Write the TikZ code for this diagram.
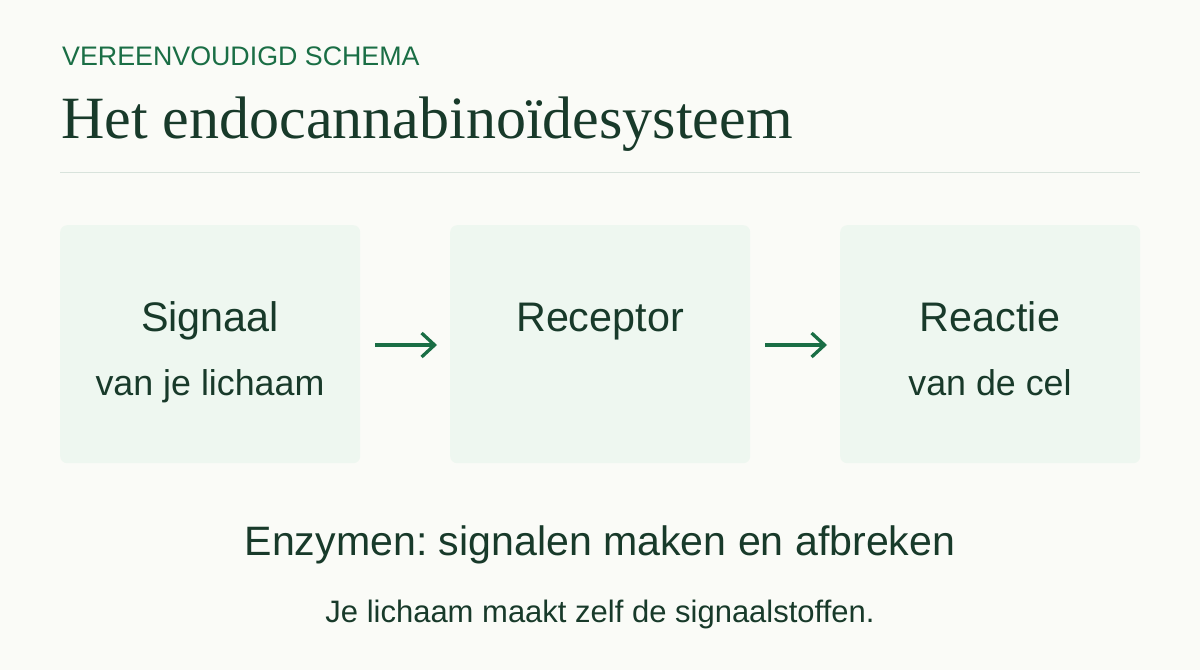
\documentclass[tikz,border=0pt]{standalone}
\usepackage{fontspec}
\setmainfont{Liberation Sans}
\newfontfamily\titlefont{Liberation Serif}
\usetikzlibrary{arrows.meta}
\definecolor{bg}{HTML}{FAFBF7}
\definecolor{boxfill}{HTML}{EEF7F0}
\definecolor{ink}{HTML}{183A2A}
\definecolor{accent}{HTML}{1A6E45}
\definecolor{rule}{HTML}{D8E3DC}
\frenchspacing
\tikzset{
  stage/.style={fill=boxfill, draw=none, rounded corners=7pt, minimum width=300pt, minimum height=238pt, anchor=north west},
  main/.style={text=ink, font=\fontsize{41.3}{46}\selectfont, inner sep=0pt},
  sub/.style={text=ink, font=\fontsize{35.8}{40}\selectfont, inner sep=0pt},
  flow/.style={draw=accent, line width=3.3pt, -{Straight Barb[length=13pt,width=24pt,line width=3.3pt]}}
}
\begin{document}
\begin{tikzpicture}[x=1pt,y=-1pt]
\fill[bg] (0,0) rectangle (1200,670);
\useasboundingbox (0,0) rectangle (1200,670);
\node[anchor=base west, inner sep=0pt, text=accent, font=\fontsize{26.8}{30}\selectfont] (kicker) at (62,65) {VEREENVOUDIGD SCHEMA};
\node[anchor=base west, inner sep=0pt, text=ink, font=\titlefont\fontsize{60}{66}\selectfont] (title) at (61,138) {Het endocannabinoïdesysteem};
\draw[rule, line width=1.5pt] (60,172.5) -- (1140,172.5);
\node[stage] (b1) at (60,225) {};
\node[stage] (b2) at (450,225) {};
\node[stage] (b3) at (840,225) {};
\node[main, anchor=base] (t1) at (210,331) {Signaal};
\node[sub, anchor=base] (s1) at (210,395) {van je lichaam};
\node[main, anchor=base] (t2) at (600,331) {Receptor};
\node[main, anchor=base] (t3) at (990,331) {Reactie};
\node[sub, anchor=base] (s3) at (990,395) {van de cel};
\coordinate (a1s) at (375,345);
\coordinate (a1e) at (437,345);
\coordinate (a2s) at (765,345);
\coordinate (a2e) at (827,345);
\draw[flow] (a1s) -- (a1e);
\draw[flow] (a2s) -- (a2e);
\node[anchor=base, inner sep=0pt, text=ink, font=\fontsize{41.1}{46}\selectfont] (enz) at (600,555) {Enzymen: signalen maken en afbreken};
\node[anchor=base, inner sep=0pt, text=ink, font=\fontsize{31}{36}\selectfont] (note) at (600,622) {Je lichaam maakt zelf de signaalstoffen.};
\end{tikzpicture}
\end{document}
